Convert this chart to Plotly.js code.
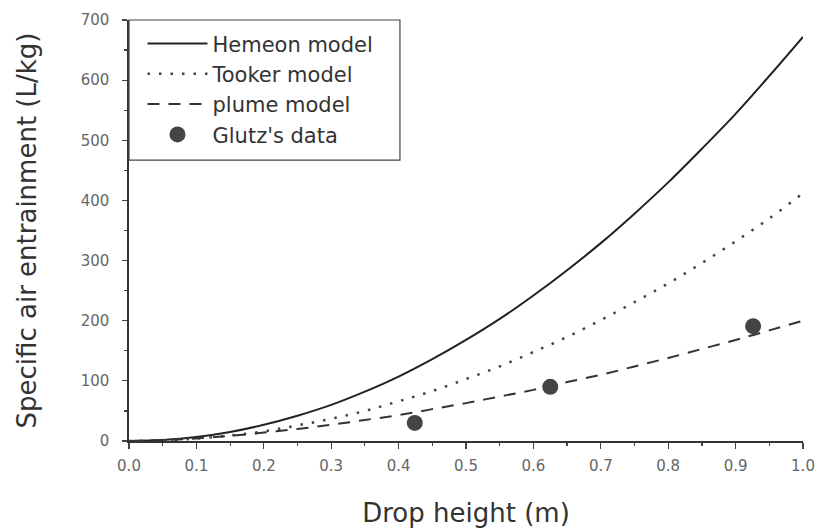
<!DOCTYPE html>
<html>
<head>
<meta charset="utf-8">
<script src="https://cdn.plot.ly/plotly-3.0.1.min.js"></script>
<style>html,body{margin:0;padding:0;background:#fff;}#chart{width:819px;height:531px;}</style>
</head>
<body>
<div id="chart"></div>
<script>
// Drop height (m) sample positions for model curves
var dropHeight = [0, 0.05, 0.1, 0.15, 0.2, 0.25, 0.3, 0.35, 0.4, 0.45, 0.5, 0.55, 0.6, 0.65, 0.7, 0.75, 0.8, 0.85, 0.9, 0.95, 1.0];
// Specific air entrainment (L/kg)
var hemeon = [0, 1.7, 6.7, 15, 27, 42, 60, 82, 107, 136, 168, 203, 242, 284, 329, 378, 430, 486, 544, 607, 672];
var tooker = [0, 1, 4, 9, 16, 26, 37, 50, 66, 83, 103, 124, 148, 173, 201, 231, 262, 296, 332, 370, 412];
var plume  = [0, 1.4, 4.3, 8.5, 14, 20, 27, 35, 43, 53, 63, 74, 85, 98, 110, 124, 138, 153, 168, 184, 200];
// Glutz's data
var glutzX = [0.424, 0.625, 0.926];
var glutzY = [30, 90, 191];

var names = ["Hemeon model", "Tooker model", "plume model", "Glutz's data"];

var traces = [
  {x: dropHeight, y: hemeon, mode: 'lines', name: names[0], line: {color: '#222', width: 2, shape: 'spline'}, legendgroup: 'a'},
  {x: dropHeight, y: tooker, mode: 'lines', name: names[1], line: {color: '#444', width: 2.5, dash: '2.5px,9px', shape: 'spline'}, legendgroup: 'b'},
  {x: dropHeight, y: plume, mode: 'lines', name: names[2], line: {color: '#333', width: 2, dash: '12px,9px', shape: 'spline'}, legendgroup: 'c'},
  {x: glutzX, y: glutzY, mode: 'markers', name: names[3], marker: {color: '#444', size: 16}, legendgroup: 'd'}
];

var titleFont = {family: 'DejaVu Sans, sans-serif', size: 26, color: '#333'};

var layout = {
  width: 819, height: 531,
  margin: {l: 129, r: 16, t: 20, b: 90},
  paper_bgcolor: '#fff', plot_bgcolor: '#fff',
  showlegend: true,
  legend: {
    x: 0.02, y: 0.992, xanchor: 'left', yanchor: 'top',
    bgcolor: 'rgba(255,255,255,0)', borderwidth: 0,
    font: {family: 'DejaVu Sans, sans-serif', size: 21, color: '#333'},
    tracegroupgap: 0, traceorder: 'grouped', itemwidth: 60
  },
  shapes: [
    {type: 'rect', xref: 'paper', yref: 'paper', x0: 0, x1: 0.402, y0: 0.667, y1: 1,
     line: {color: '#444', width: 1.2}, fillcolor: 'rgba(0,0,0,0)', layer: 'above'}
  ],
  xaxis: {
    range: [0, 1.0], tickvals: [0,0.1,0.2,0.3,0.4,0.5,0.6,0.7,0.8,0.9,1.0],
    ticktext: ['0.0','0.1','0.2','0.3','0.4','0.5','0.6','0.7','0.8','0.9','1.0'],
    ticks: 'outside', ticklen: 6, tickwidth: 1.2, tickcolor: '#444',
    minor: {dtick: 0.05, ticks: 'outside', ticklen: 3, tickcolor: '#444', showgrid: false},
    showline: true, linecolor: '#333', linewidth: 1.6, showgrid: false, zeroline: false,
    tickfont: {family: 'DejaVu Sans, sans-serif', size: 15, color: '#666'}, ticklabelstandoff: 4,
    title: {text: 'Drop height (m)', font: titleFont, standoff: 30}
  },
  yaxis: {
    range: [0, 700], tickvals: [0,100,200,300,400,500,600,700],
    ticks: 'outside', ticklen: 5, tickwidth: 1.2, tickcolor: '#444',
    minor: {dtick: 50, ticks: 'outside', ticklen: 3, tickcolor: '#444', showgrid: false},
    showline: true, linecolor: '#333', linewidth: 1.6, showgrid: false, zeroline: false,
    tickfont: {family: 'DejaVu Sans, sans-serif', size: 15, color: '#666'}, ticklabelstandoff: 10,
    title: {text: 'Specific air entrainment (L/kg)', font: titleFont, standoff: 36}
  }
};

Plotly.newPlot('chart', traces, layout, {displayModeBar: false, staticPlot: true});
</script>
</body>
</html>
